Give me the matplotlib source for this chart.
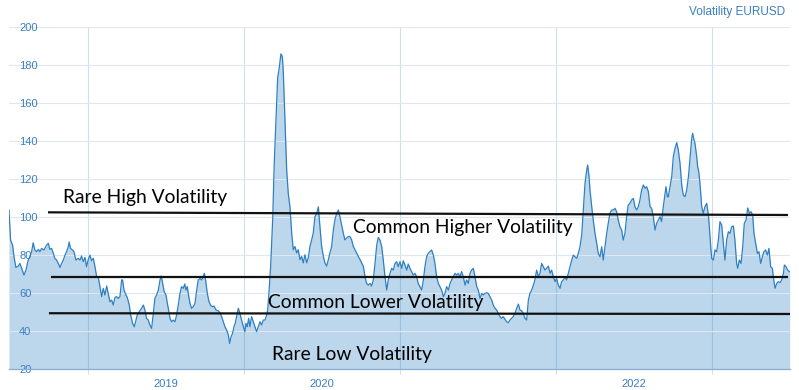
import numpy as np
import matplotlib
matplotlib.use("Agg")
import matplotlib.pyplot as plt

# EURUSD volatility (time as decimal years)
t18 = [.494, .504, .517, .526, .538, .553, .564, .575, .590, .603, .617, .628, .639, .649, .660,
       .671, .682, .692, .703, .718, .735, .746, .756, .767, .778, .788, .799, .810, .821, .831,
       .842, .853, .863, .874, .880, .888, .901, .910, .923, .938, .949, .959, .970, .981, .991]
v18 = [103.5, 87.7, 85.0, 79.0, 73.3, 74.0, 75.4, 72.8, 69.3, 72.0, 77.0, 79.0, 81.6, 86.3, 82.5,
       81.6, 82.8, 81.6, 83.3, 82.5, 85.0, 86.0, 82.8, 83.3, 80.7, 78.0, 77.2, 75.4, 73.3, 75.4,
       77.2, 79.8, 81.6, 84.2, 86.7, 83.3, 82.5, 81.6, 77.2, 78.1, 77.2, 79.3, 76.3, 78.6, 73.7]

t19 = [.002, .013, .023, .034, .045, .056, .066, .077, .088, .098, .109, .120, .130, .141, .152,
       .162, .173, .184, .194, .205, .216, .222, .231, .244, .252, .265, .274, .286, .297, .308,
       .316, .329, .344, .355, .365, .376, .387, .397, .408, .419, .429, .440, .451, .462, .470,
       .479, .489, .500, .509, .521,
       .526, .536, .547, .558, .568, .579, .590, .600, .611, .621, .628, .637, .643, .654, .664,
       .675, .686, .697, .707, .718, .729, .739, .746, .754, .765, .776, .786, .797, .808, .821,
       .835, .846, .857, .868, .878, .889, .900, .908, .917, .927, .936, .944, .953, .964, .974,
       .985, .996]
v19 = [77.5, 79.8, 76.8, 78.1, 73.7, 68.4, 68.1, 63.2, 57.9, 62.3, 58.8, 63.5, 59.6, 55.3, 56.1,
       53.5, 57.5, 57.9, 57.0, 57.9, 66.7, 66.7, 61.4, 58.8, 57.5, 53.5, 48.2, 43.9, 42.1, 45.6,
       48.2, 50.0, 51.8, 53.5, 50.9, 46.5, 45.6, 43.0, 41.2, 49.1, 57.0, 58.8, 61.4, 66.7, 68.8,
       64.9, 60.5, 58.8, 54.4, 49.1,
       46.5, 44.7, 45.6, 44.7, 48.2, 53.5, 59.6, 63.2, 62.3, 64.6, 61.4, 63.2, 59.6, 54.4, 51.8,
       52.6, 54.4, 61.4, 66.7, 67.5, 66.7, 68.4, 70.2, 66.7, 59.6, 55.3, 53.5, 52.6, 53.0, 50.9,
       50.5, 49.5, 47.4, 44.7, 42.1, 40.4, 37.7, 33.3, 36.8, 38.6, 42.1, 43.9, 47.4, 51.8, 49.1,
       45.6, 42.1]

t20 = [.006, .013, .021, .030, .038, .049, .060, .071, .081, .092, .103, .113, .124, .135, .145,
       .152, .160, .171, .184, .194, .205, .216, .226, .237, .246, .252, .263, .274, .284, .295,
       .306, .316, .327, .338, .348, .359, .370, .380, .391, .402, .412, .423, .434, .444, .455,
       .466, .477, .487, .498, .509, .519, .530, .541, .551, .562, .573, .583, .594, .605, .615,
       .626, .637, .647, .658, .669, .679, .690, .701, .712, .722, .733, .744, .754, .765, .776,
       .786, .797, .808, .818, .829, .840, .851, .861, .872, .883, .893, .904, .915, .925, .936,
       .947, .957, .968, .979, .989]
v20 = [39.5, 43.9, 42.1, 46.5, 42.1, 47.4, 44.7, 42.1, 39.5, 42.1, 44.7, 43.0, 45.6, 45.6, 48.2,
       50.9, 59.6, 73.7, 98.3, 127.8, 150.4, 173.0, 178.3, 185.7, 184.3, 176.5, 150.4, 124.3, 112.2, 105.2,
       91.3, 82.6, 84.3, 80.9, 82.6, 77.4, 79.1, 75.7, 80.0, 75.7, 78.3, 84.3, 87.8, 91.3, 100.0,
       101.7, 105.2, 94.8, 84.3, 79.1, 75.7, 74.0, 77.4, 80.9, 84.3, 93.0, 98.3, 101.7, 103.5, 100.0,
       95.7, 91.3, 87.8, 88.7, 89.6, 89.6, 87.8, 84.3, 82.6, 80.9, 79.1, 77.4, 75.7, 74.0, 68.4,
       64.9, 64.0, 64.9, 63.5, 66.7, 75.4, 85.1, 89.1, 87.7, 84.2, 77.2, 68.4, 61.4, 66.7, 70.2,
       72.8, 71.9, 75.4, 76.3, 73.7]

t21 = [.000, .011, .021, .032, .043, .053, .064, .075, .085, .096, .107, .117, .128, .139, .150,
       .160, .171, .181, .192, .203, .214, .224, .235, .246, .256, .267, .278, .288, .299, .310,
       .321, .331, .342, .353, .363, .374, .385, .395, .406, .417, .427, .438, .449, .460, .470,
       .481, .492, .502, .513, .524, .534, .545, .556, .566, .577, .588, .598, .609, .620, .630,
       .641, .652, .662, .673, .684, .694, .705, .716, .726, .737, .748, .759, .769, .780, .791,
       .801, .812, .823, .833, .844, .855, .865, .876, .887, .897, .908, .919, .929, .940, .951,
       .962, .972, .983, .994]
v21 = [76.3, 72.8, 76.8, 74.6, 71.9, 75.1, 72.8, 71.1, 69.3, 70.2, 68.4, 64.9, 63.2, 61.4, 66.7,
       73.7, 78.9, 80.7, 81.6, 82.5, 79.8, 75.4, 68.4, 64.9, 63.2, 61.4, 57.9, 59.6, 63.2, 61.4,
       64.9, 66.7, 68.4, 70.2, 69.3, 70.2, 68.4, 71.1, 68.4, 64.0, 66.7, 64.9, 70.2, 72.0, 72.8,
       68.4, 63.2, 61.4, 57.0, 59.6, 58.8, 59.6, 60.0, 59.6, 57.9, 56.1, 53.5, 51.8, 50.9, 49.1,
       47.4, 46.5, 47.4, 46.0, 44.7, 44.2, 45.6, 46.5, 47.4, 49.1, 51.8, 54.0, 50.9, 50.5, 49.1,
       46.5, 45.6, 56.1, 59.6, 61.4, 64.0, 66.7, 71.9, 68.4, 70.2, 75.4, 73.7, 71.9, 72.8, 74.0,
       70.2, 71.9, 68.4, 65.8]

t22 = [.004, .015, .026, .036, .047, .058, .068, .079, .090, .101, .111, .122, .133, .143, .154,
       .165, .175, .186, .197, .203, .212, .218, .229, .239, .250, .261, .271, .282, .293, .303,
       .314, .325, .335, .346, .357, .367, .378, .389, .399, .410, .421, .431, .442, .453, .463,
       .474, .485, .496, .506, .517, .528, .538, .549, .560, .571, .581, .592, .603, .613, .624,
       .635, .645, .656, .667, .677, .688, .699, .705, .714, .720, .731, .742, .752, .763, .774,
       .784, .795, .806, .816, .827, .838, .849, .859, .870, .876, .885, .891, .902, .908, .915,
       .923, .934, .944, .955, .966, .977, .983, .992, .998]
v22 = [67.5, 64.0, 62.3, 65.8, 66.7, 68.4, 66.7, 70.2, 73.7, 77.2, 79.8, 78.9, 78.1, 80.7, 84.2,
       90.4, 103.5, 117.5, 124.6, 127.2, 121.1, 114.0, 105.3, 98.2, 91.2, 86.0, 80.7, 78.9, 84.2, 77.2,
       84.2, 91.2, 96.5, 101.8, 103.5, 103.5, 104.4, 102.6, 98.2, 94.7, 93.0, 87.7, 91.2, 100.0, 106.1,
       107.0, 108.8, 109.6, 105.3, 103.5, 105.3, 108.8, 114.0, 116.7, 114.9, 115.8, 113.2, 105.3, 104.4, 100.0,
       93.0, 96.5, 98.2, 100.0, 97.4, 105.3, 112.3, 115.8, 110.5, 110.5, 115.8, 121.1, 131.6, 136.0, 139.0,
       135.1, 128.1, 116.7, 111.4, 110.5, 114.0, 121.1, 130.7, 141.2, 143.9, 140.4, 138.6, 131.6, 126.3, 123.7,
       117.5, 105.3, 101.8, 105.3, 107.0, 100.9, 94.7, 84.2, 78.1]

t23 = [.009, .019, .030, .041, .051, .062, .073, .083, .094, .105, .115, .126, .137, .147, .158,
       .165, .175, .186, .197, .207, .218, .229, .240, .250, .261, .269, .280, .291, .301, .312,
       .323, .333, .344, .355, .365, .376, .387, .393, .404, .415, .425, .436, .447, .458, .464,
       .474, .485, .498]
v23 = [77.2, 82.5, 81.6, 87.7, 97.4, 95.6, 86.0, 77.2, 87.7, 92.1, 91.2, 94.7, 95.1, 87.7, 75.4,
       72.8, 77.2, 75.4, 84.2, 96.5, 98.2, 104.6, 101.8, 102.6, 100.9, 91.2, 86.0, 80.7, 81.6, 75.4,
       79.0, 81.6, 82.5, 79.8, 83.3, 73.7, 72.8, 68.4, 62.3, 64.9, 65.8, 65.3, 66.7, 70.2, 74.6,
       73.7, 71.9, 71.0]

# hand-drawn regime lines: (start, end) in years and (start, end) levels
line_x = [(2018.744, 2023.487), (2018.763, 2023.487), (2018.750, 2023.506)]
line_y = [(102.3, 100.9), (68.1, 68.1), (49.2, 48.8)]

labels = ["Rare High Volatility", "Common Higher Volatility",
          "Common Lower Volatility", "Rare Low Volatility"]
label_x = [2018.840, 2020.701, 2020.156, 2020.178]
label_y = [107.4, 91.6, 51.8, 24.6]

year_labels = ["2019", "2020", "2022"]

t = np.concatenate([2018 + np.array(t18), 2019 + np.array(t19), 2020 + np.array(t20),
                    2021 + np.array(t21), 2022 + np.array(t22), 2023 + np.array(t23)])
v = np.concatenate([v18, v19, v20, v21, v22, v23])

blue = "#2f80c2"
txt_blue = "#3a7fc0"

fig = plt.figure(figsize=(7.99, 3.90), dpi=100)
ax = fig.add_axes([9 / 799, 21.3 / 390, 781 / 799, 342 / 390])

ax.fill_between(t, v, 0, color=blue, alpha=0.32, linewidth=0, zorder=1)
ax.plot(t, v, color=blue, linewidth=0.9, zorder=2)

for (x0, x1), (y0, y1) in zip(line_x, line_y):
    ax.plot([x0, x1], [y0, y1], color="#111111", linewidth=1.6, zorder=4,
            solid_capstyle="butt")

for s, x, y in zip(labels, label_x, label_y):
    ax.text(x, y, s, fontsize=13.9, family="Lato", color="black",
            va="baseline", ha="left", zorder=5)

ax.set_xlim(2018.494, 2023.5)
ax.set_ylim(20, 200)

# axes styling
for side in ["top", "right", "left"]:
    ax.spines[side].set_visible(False)
ax.spines["bottom"].set_color("#86acd4")
ax.spines["bottom"].set_linewidth(0.9)

ax.set_yticks(np.arange(20, 201, 20))
ax.tick_params(axis="y", length=0, pad=-7.2, labelsize=8, labelcolor=txt_blue)
for lab in ax.get_yticklabels():
    lab.set_horizontalalignment("left")
    lab.set_family("Liberation Sans")

ax.set_xticks([2019, 2020, 2021, 2022, 2023])
ax.set_xticklabels([])
ax.tick_params(axis="x", which="major", length=3.6, color="#cfdeea", width=0.8)
ax.set_xticks([2019.5, 2020.5, 2022.5], minor=True)
ax.set_xticklabels(year_labels, minor=True)
ax.tick_params(axis="x", which="minor", length=0, pad=7.5, labelsize=8, labelcolor=txt_blue)
for lab in ax.get_xticklabels(minor=True):
    lab.set_family("Liberation Sans")

ax.grid(axis="y", color="#dde8f1", linewidth=0.8)
ax.grid(axis="x", which="major", color="#cfdeea", linewidth=0.8)
ax.xaxis.set_zorder(0.5)
ax.yaxis.set_zorder(1.5)

fig.text(785 / 799, 1 - 12 / 390, "Volatility EURUSD", ha="right", va="center",
         color=txt_blue, fontsize=8.5, family="Liberation Sans")

fig.savefig("out.png", dpi=100)
